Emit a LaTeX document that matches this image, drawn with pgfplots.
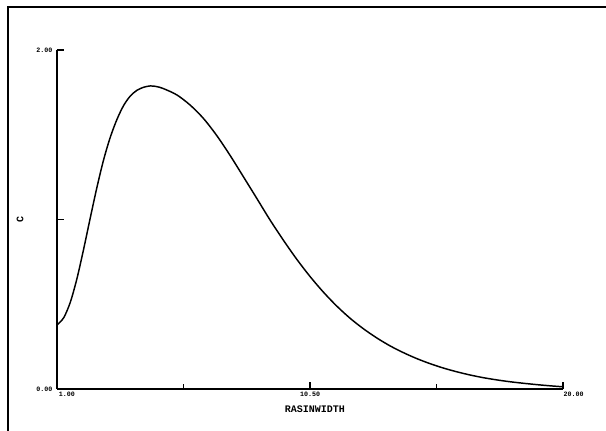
\documentclass[border=0pt]{standalone}
\usepackage{fontspec}
\setmonofont{Liberation Mono}
\usepackage{pgfplots}
\pgfplotsset{compat=1.18}

\begin{document}
\begin{tikzpicture}
% page area (1px = 0.75pt), axis origin at (0,0)
\useasboundingbox (-42.75pt,-31.5pt) rectangle (411.75pt,291.75pt);
% outer frame (left and top edges)
\draw[line width=1.4pt] (-36.75pt,-31.5pt) -- (-36.75pt,286.5pt) -- (411.75pt,286.5pt);
\begin{axis}[
  at={(0,0)}, anchor=south west,
  scale only axis,
  width=379.5pt, height=254.25pt,
  xmin=1, xmax=20, ymin=0, ymax=2,
  axis x line=bottom, axis y line=left,
  axis line style={line width=1.2pt, -},
  tick style={line width=1pt, black},
  tick align=inside,
  major tick length=5pt,
  minor tick length=4pt,
  xtick={1,10.5,20},
  xticklabels={\hspace{15pt}1.00, 10.50, \hspace{16pt}20.00},
  minor xtick={5.75,15.25},
  ytick={0,1,2},
  yticklabels={0.00,,2.00},
  ticklabel style={font=\ttfamily\bfseries\fontsize{5}{6}\selectfont},
  xticklabel style={yshift=1pt},
  xlabel={RASINWIDTH},
  ylabel={C},
  label style={font=\ttfamily\bfseries\fontsize{7.5}{8}\selectfont},
  xlabel style={at={(axis description cs:0.5,0)}, anchor=center, xshift=3.75pt, yshift=-15pt},
  ylabel style={at={(axis description cs:0,0.5)}, anchor=center, yshift=27.75pt},
  clip=false,
]
\addplot[black, line width=1.1pt, smooth] coordinates {
  (1.00,0.378) (1.25,0.420) (1.50,0.512) (1.75,0.652) (2.00,0.825)
  (2.25,1.010) (2.50,1.190) (2.75,1.352) (3.00,1.485) (3.25,1.590)
  (3.50,1.672) (3.75,1.728) (4.00,1.762) (4.25,1.780) (4.50,1.788)
  (4.75,1.784) (5.00,1.772) (5.50,1.735) (6.00,1.675) (6.50,1.596)
  (7.00,1.495) (7.50,1.378) (8.00,1.252) (8.50,1.125) (9.00,0.997)
  (9.50,0.878) (10.00,0.766) (10.50,0.664) (11.00,0.572) (11.50,0.490)
  (12.00,0.418) (12.50,0.356) (13.00,0.302) (13.50,0.255) (14.00,0.215)
  (14.50,0.180) (15.00,0.150) (15.50,0.124) (16.00,0.102) (16.50,0.083)
  (17.00,0.067) (17.50,0.054) (18.00,0.043) (18.50,0.034) (19.00,0.026)
  (19.50,0.019) (20.00,0.013)
};
\end{axis}
\end{tikzpicture}
\end{document}
